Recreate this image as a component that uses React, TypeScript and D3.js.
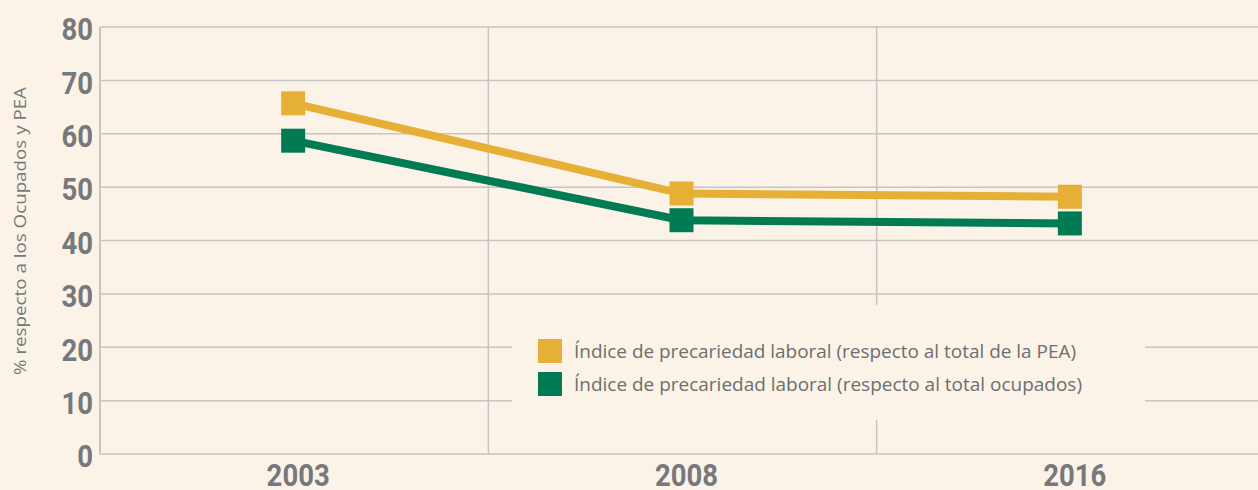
import React, { useEffect, useRef } from "react";
import * as d3 from "d3";

const years = ["2003", "2008", "2016"];
const peaValues = [65.7, 48.8, 48.2];
const ocupadosValues = [58.7, 43.8, 43.2];
const yTicks = [0, 10, 20, 30, 40, 50, 60, 70, 80];
const legendLabels = [
  "Índice de precariedad laboral (respecto al total de la PEA)",
  "Índice de precariedad laboral (respecto al total ocupados)",
];
const yTitle = "% respecto a los Ocupados y PEA";

const App = () => {
  const ref = useRef<SVGSVGElement>(null);

  useEffect(() => {
    const width = 1258;
    const height = 490;
    const margin = { top: 27, right: 0, bottom: 36, left: 100 };
    const bg = "#fbf3e7";
    const gridColor = "#c6c5c3";
    const textGray = "#77787b";
    const colors = ["#e5b035", "#007b54"];

    const svg = d3.select(ref.current);
    svg.selectAll("*").remove();

    svg.append("rect").attr("width", width).attr("height", height).attr("fill", bg);

    const x = d3.scaleBand()
      .domain(years)
      .range([margin.left, 1265])
      .padding(0);

    const y = d3.scaleLinear()
      .domain([0, 80])
      .range([height - margin.bottom, margin.top]);

    // horizontal grid
    svg.append("g")
      .selectAll("line")
      .data(yTicks)
      .enter().append("line")
      .attr("x1", margin.left)
      .attr("x2", width)
      .attr("y1", d => y(d))
      .attr("y2", d => y(d))
      .attr("stroke", gridColor)
      .attr("stroke-width", 1.5);

    // vertical grid at band boundaries
    svg.append("g")
      .selectAll("line")
      .data(years.slice(1))
      .enter().append("line")
      .attr("x1", d => x(d)!)
      .attr("x2", d => x(d)!)
      .attr("y1", y(80))
      .attr("y2", y(0))
      .attr("stroke", gridColor)
      .attr("stroke-width", 1.5);

    // y axis line
    svg.append("line")
      .attr("x1", margin.left).attr("x2", margin.left)
      .attr("y1", y(80)).attr("y2", y(0))
      .attr("stroke", gridColor)
      .attr("stroke-width", 2);

    // y tick labels (bold condensed look)
    const sx = 0.86;
    const yAxis = svg.append("g")
      .attr("transform", `translate(${margin.left},0)`)
      .call(d3.axisLeft(y).tickValues(yTicks).tickSize(0).tickPadding(0));
    yAxis.select(".domain").remove();
    yAxis.selectAll("text")
      .attr("x", -7 / sx)
      .attr("dy", "0.4em")
      .attr("transform", `scale(${sx},1)`)
      .attr("fill", textGray)
      .style("font-family", "Roboto, 'Liberation Sans', sans-serif")
      .style("font-weight", 700)
      .style("font-size", "32px");

    // x tick labels
    const xAxis = svg.append("g")
      .attr("transform", `translate(4,${y(0)})`)
      .call(d3.axisBottom(x).tickSize(0).tickPadding(0));
    xAxis.select(".domain").remove();
    xAxis.selectAll(".tick").each(function () {
      const t = d3.select(this).select("text");
      t.attr("y", 0)
        .attr("dy", 0)
        .attr("transform", `translate(0,32) scale(${sx},1)`)
        .attr("fill", textGray)
        .style("font-family", "Roboto, 'Liberation Sans', sans-serif")
        .style("font-weight", 700)
        .style("font-size", "32px");
    });

    // legend background box (hides grid lines)
    svg.append("rect")
      .attr("x", 512).attr("y", 305)
      .attr("width", 633).attr("height", 115)
      .attr("fill", bg);

    // lines + markers
    const series = [peaValues, ocupadosValues];
    const line = d3.line<number>()
      .x((_, i) => x(years[i])! + x.bandwidth() / 2 - 1)
      .y(d => y(d));

    series.forEach((vals, si) => {
      svg.append("path")
        .datum(vals)
        .attr("d", line)
        .attr("fill", "none")
        .attr("stroke", colors[si])
        .attr("stroke-width", 8);
      svg.append("g")
        .selectAll("rect")
        .data(vals)
        .enter().append("rect")
        .attr("x", (_, i) => x(years[i])! + x.bandwidth() / 2 - 1 - 12)
        .attr("y", d => y(d) - 12)
        .attr("width", 24)
        .attr("height", 24)
        .attr("fill", colors[si]);
    });

    // legend
    const legend = svg.append("g");
    legendLabels.forEach((label, i) => {
      const gy = 339 + i * 33;
      legend.append("rect")
        .attr("x", 538).attr("y", gy)
        .attr("width", 24).attr("height", 24)
        .attr("fill", colors[i]);
      legend.append("text")
        .attr("x", 574)
        .attr("y", gy + 19)
        .attr("fill", "#6d6e71")
        .attr("textLength", i === 0 ? 502 : 508)
        .attr("lengthAdjust", "spacingAndGlyphs")
        .style("font-family", "'Open Sans', sans-serif")
        .style("font-size", "18px")
        .text(label);
    });

    // y title
    svg.append("text")
      .attr("transform", "translate(26,231) rotate(-90)")
      .attr("text-anchor", "middle")
      .attr("fill", textGray)
      .attr("textLength", 288)
      .attr("lengthAdjust", "spacingAndGlyphs")
      .style("font-family", "'Open Sans', sans-serif")
      .style("font-size", "17px")
      .text(yTitle);
  }, []);

  return (
    <svg
      ref={ref}
      width={1258}
      height={490}
      style={{ position: "absolute", left: 0, top: 0, display: "block" }}
    ></svg>
  );
};

export default App;
